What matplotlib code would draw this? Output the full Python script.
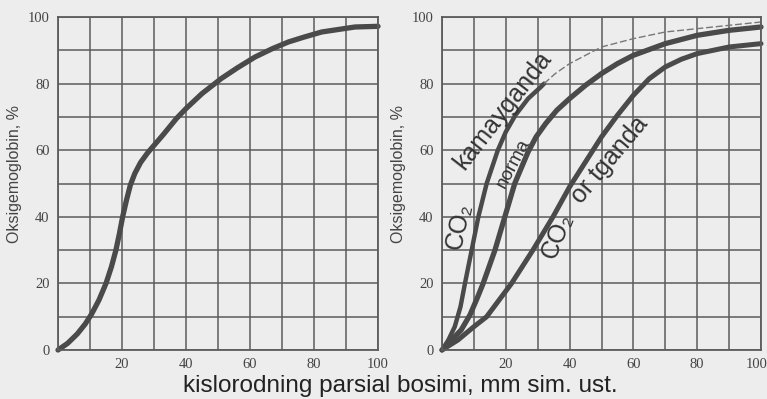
''' OXYHEMOGLOBIN DISSOCIATION CURVES '''

import matplotlib.pyplot as plt
import matplotlib.transforms as mtransforms

# left panel: normal curve
norm_x = [0, 3, 6, 8.5, 10.5, 12.8, 15, 16.7, 18.1, 19.2, 20.2, 21.4, 22.6, 24, 25.8,
          28, 30.5, 33, 37, 40, 45, 51, 56, 61.6, 67, 72, 77, 82.4, 92.8, 100]
norm_y = [0, 2, 4.8, 7.8, 10.8, 15, 20, 25, 30, 35, 40, 45, 49.5, 53, 56.3,
          59.2, 62, 64.8, 69.5, 72.5, 77, 81.5, 84.7, 88, 90.5, 92.5, 94, 95.5, 97, 97.2]

# right panel
low_x = [0, 2, 4, 5.8, 7.2, 9.3, 11.4, 14, 17.5, 20, 23, 27, 31, 32]
low_y = [0, 3, 7, 13, 20, 30, 40, 50, 60, 65.5, 70.5, 75.5, 79, 80]
low_dash_x = [32, 35.5, 40, 50, 60, 70, 80, 90, 100]
low_dash_y = [80, 83, 86, 91, 93.5, 95.5, 96.5, 97.5, 98.5]

mid_x = [0, 3, 6, 8.75, 11, 12.9, 16.6, 19.7, 22.8, 25, 27, 29.5, 32.5, 36, 40, 45, 50,
         55, 60, 70, 80, 90, 100]
mid_y = [0, 3, 6, 10.5, 15.5, 20, 30, 40, 50, 55, 59.5, 64, 68, 72, 75.5, 79.5, 83,
         86, 88.5, 92, 94.5, 96, 97]

high_x = [0, 5, 10, 14, 21.8, 28.5, 34.8, 40, 45, 50, 55, 60, 65, 70, 75, 80, 90, 100]
high_y = [0, 3, 7, 10, 20, 30, 40, 49, 56.5, 64, 70.5, 76.5, 81.5, 85, 87.3, 89, 91, 92]

ticks = list(range(0, 101, 10))
xlabels = ['', '', '20', '', '40', '', '60', '', '80', '', '100']
ylabels = ['0', '', '20', '', '40', '', '60', '', '80', '', '100']

bg = '#ededed'
gridc = '#5c5c5c'
curvec = '#4a4a4a'
textc = '#333333'

fig = plt.figure(figsize=(7.67, 3.99), dpi=100, facecolor=bg)
ax1 = fig.add_axes([58/767, 49/399, 320/767, 333/399])
ax2 = fig.add_axes([442/767, 49/399, 319/767, 333/399])

shift = mtransforms.ScaledTranslation(-5/100, 0, fig.dpi_scale_trans)

for ax in (ax1, ax2):
    ax.set_facecolor(bg)
    ax.set_xlim(0, 100)
    ax.set_ylim(0, 100)
    ax.set_xticks(ticks)
    ax.set_yticks(ticks)
    ax.set_xticklabels(xlabels, family='Liberation Serif', fontsize=10.5, color='#444444')
    ax.set_yticklabels(ylabels, family='Liberation Serif', fontsize=10.5, color='#444444')
    for lab in ax.get_xticklabels():
        lab.set_transform(lab.get_transform() + shift)
    ax.tick_params(length=0, pad=6)
    ax.grid(True, color=gridc, linewidth=1.1)
    for s in ax.spines.values():
        s.set_color(gridc)
        s.set_linewidth(1.3)
    ax.set_ylabel('Oksigemoglobin, %', family='Liberation Sans', fontsize=11.5,
                  color='#444444')
    ax.yaxis.set_label_coords(-0.113, 0.528)

# keep the last "100" inside the figure edge
last = ax2.get_xticklabels()[-1]
last.set_transform(last.get_transform()
                   + mtransforms.ScaledTranslation(-4/100, 0, fig.dpi_scale_trans))

ax1.plot(norm_x, norm_y, color=curvec, linewidth=3.8, solid_capstyle='round',
         solid_joinstyle='round', clip_on=False)

ax2.plot(low_x, low_y, color=curvec, linewidth=3.2, solid_capstyle='round',
         solid_joinstyle='round', clip_on=False)
ax2.plot(low_dash_x, low_dash_y, color='#777777', linewidth=1.0, dashes=(5, 2))
ax2.plot(mid_x, mid_y, color=curvec, linewidth=3.8, solid_capstyle='round',
         solid_joinstyle='round', clip_on=False)
ax2.plot(high_x, high_y, color=curvec, linewidth=3.6, solid_capstyle='round',
         solid_joinstyle='round', clip_on=False)

lab_font = ['Liberation Sans', 'DejaVu Sans']
kw = dict(family=lab_font, color=textc, ha='center', va='center', rotation_mode='anchor')
ax2.text(5.4, 37.2, 'CO₂', fontsize=18, rotation=78, **kw)
ax2.text(19, 72, 'kamayganda', fontsize=18, rotation=52, **kw)
ax2.text(22.5, 56, 'norma', fontsize=13.5, rotation=62, **kw)
ax2.text(36.2, 34.2, 'CO₂', fontsize=18, rotation=68, **kw)
ax2.text(52.5, 57, 'or tganda', fontsize=18, rotation=50, **kw)

fig.text(400/767, 1 - 386/399, 'kislorodning parsial bosimi, mm sim. ust.',
         family='Liberation Sans', fontsize=17.5, color='#222222', ha='center', va='center')

fig.savefig('out.png', dpi=100, facecolor=bg)
